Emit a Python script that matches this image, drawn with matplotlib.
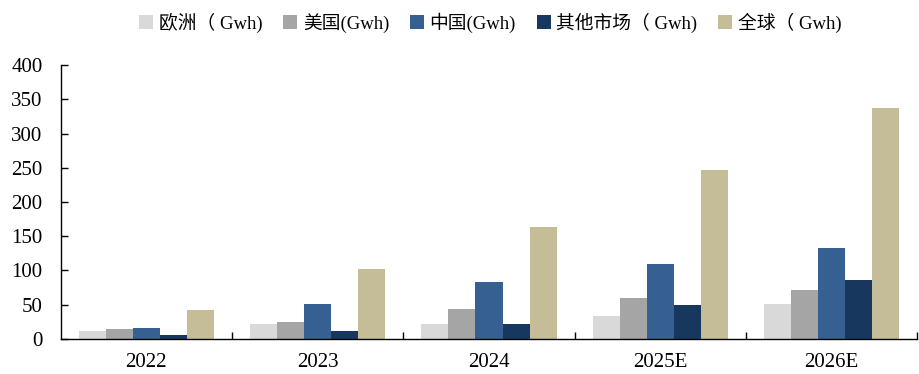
import matplotlib
matplotlib.use("Agg")
import matplotlib.pyplot as plt
import numpy as np

plt.rcParams['font.family'] = ['Liberation Serif', 'Noto Sans CJK SC']

years = ["2022", "2023", "2024", "2025E", "2026E"]
series_names = ["欧洲（ Gwh)", "美国(Gwh)", "中国(Gwh)", "其他市场（ Gwh)", "全球（ Gwh)"]
europe = [12, 21, 22, 34, 51]
usa = [15, 24, 43, 59, 71]
china = [16, 51, 83, 109, 133]
others = [5, 12, 21, 49, 86]
world = [42, 102, 163, 247, 337]
colors = ["#D9D9D9", "#A5A5A5", "#376092", "#17375E", "#C4BD97"]
yticks = [0, 50, 100, 150, 200, 250, 300, 350, 400]

fig = plt.figure(figsize=(9.2, 3.74), dpi=100)
ax = fig.add_axes([0.066, 0.094, 0.931, 0.732])

x = np.arange(len(years))
width = 0.158
data = [europe, usa, china, others, world]
for i, (vals, name, c) in enumerate(zip(data, series_names, colors)):
    ax.bar(x + (i - 2) * width, vals, width, color=c, label=name, zorder=2)

ax.set_xlim(-0.5, len(years) - 0.5)
ax.set_ylim(0, 400)
ax.set_yticks(yticks)
ax.set_xticks(x)
ax.set_xticklabels(years)
ax.set_xticks(np.arange(len(years)) + 0.5, minor=True)
ax.tick_params(axis='x', which='major', length=0, pad=10, labelsize=15)
ax.tick_params(axis='x', which='minor', direction='in', length=5, width=1)
ax.tick_params(axis='y', direction='in', length=5, width=1, pad=13, labelsize=15)
for s in ['top', 'right']:
    ax.spines[s].set_visible(False)
for s in ['left', 'bottom']:
    ax.spines[s].set_linewidth(1)
    ax.spines[s].set_color('#000000')

fig.legend(loc='upper center', bbox_to_anchor=(0.533, 1.012), ncol=5, frameon=False,
           fontsize=13.5, handlelength=0.75, handleheight=0.75, handletextpad=0.3,
           columnspacing=1.1)

fig.savefig("out.png", dpi=100)
